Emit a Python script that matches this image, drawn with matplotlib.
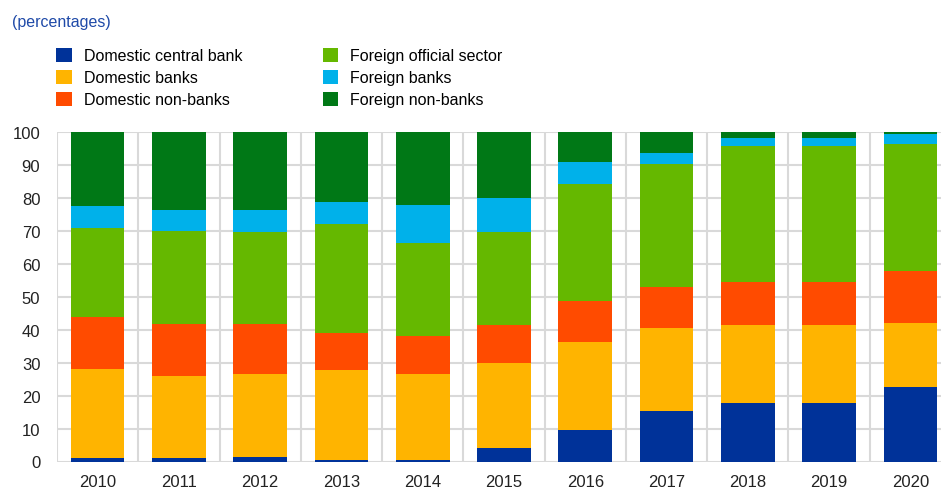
import matplotlib.pyplot as plt
import numpy as np

plt.rcParams['font.family'] = ['Liberation Sans', 'DejaVu Sans']

years = ['2010', '2011', '2012', '2013', '2014', '2015', '2016', '2017', '2018', '2019', '2020']

# holdings shares, percentages
central_bank = [1.0, 1.0, 1.3, 0.4, 0.4, 4.0, 9.6, 15.4, 17.8, 17.8, 22.6]
dom_banks = [27.0, 24.9, 25.2, 27.3, 26.1, 25.8, 26.6, 25.0, 23.6, 23.6, 19.5]
dom_nonbanks = [15.9, 15.9, 15.3, 11.4, 11.5, 11.7, 12.6, 12.6, 13.2, 13.2, 15.7]
foreign_official = [27.0, 28.3, 27.7, 33.0, 28.4, 28.3, 35.3, 37.2, 41.2, 41.2, 38.6]
foreign_banks = [6.6, 6.3, 6.7, 6.7, 11.5, 10.1, 6.7, 3.3, 2.5, 2.5, 3.1]
foreign_nonbanks = [22.5, 23.6, 23.8, 21.2, 22.1, 20.1, 9.2, 6.5, 1.7, 1.7, 0.5]

series = [
    ("Domestic central bank", central_bank, "#003299"),
    ("Domestic banks", dom_banks, "#ffb400"),
    ("Domestic non-banks", dom_nonbanks, "#ff4b00"),
    ("Foreign official sector", foreign_official, "#65b800"),
    ("Foreign banks", foreign_banks, "#00b1ea"),
    ("Foreign non-banks", foreign_nonbanks, "#007816"),
]

fig = plt.figure(figsize=(9.41, 4.89), dpi=100)
ax = fig.add_axes([57 / 941, 1 - 462.5 / 489, 894 / 941, 329.5 / 489])

x = np.arange(len(years))
bottom = np.zeros(len(years))
handles = []
for name, vals, col in series:
    b = ax.bar(x, vals, 0.66, bottom=bottom, color=col, label=name, zorder=3)
    handles.append(b)
    bottom += np.array(vals)

ax.set_xlim(-0.5, len(years) - 0.5)
ax.set_ylim(0, 100)
ax.set_yticks(np.arange(0, 101, 10))
ax.set_xticks(x)
ax.set_xticklabels(years)
ax.set_xticks(np.arange(-0.5, len(years), 1), minor=True)
ax.grid(axis='y', color='#d9d9d9', linewidth=1.5, zorder=0)
ax.grid(axis='x', which='minor', color='#d9d9d9', linewidth=1.5, zorder=0)
ax.grid(axis='x', which='major', visible=False)
ax.tick_params(which='both', length=0, labelsize=12, colors='#222222')
ax.tick_params(axis='y', pad=12)
ax.tick_params(axis='x', pad=9)
for s in ax.spines.values():
    s.set_visible(False)

fig.text(12 / 941, 1 - 22 / 489, "(percentages)", color='#1f4aa8', fontsize=11.5, va='center')

fig.legend(handles=handles, loc='upper left', bbox_to_anchor=(50 / 941, 1 - 42.5 / 489),
           ncol=2, frameon=False, fontsize=11.5, handlelength=0.95, handleheight=0.95,
           handletextpad=0.75, columnspacing=5.07, labelspacing=0.42, borderaxespad=0)

fig.savefig('out.png', dpi=100)
